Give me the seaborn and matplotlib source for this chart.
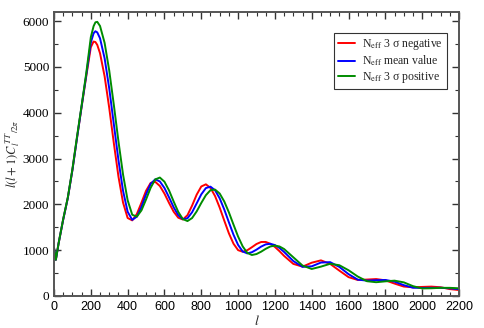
import numpy as np
import pandas as pd
import seaborn as sns
import matplotlib.pyplot as plt
from matplotlib.ticker import MultipleLocator

# multipole l grid
ell = [0, 10, 25, 50, 75, 100, 125, 150, 175, 200, 215, 225, 235, 250, 275, 300, 325, 350,
       375, 400, 425, 450, 475, 500, 525, 550, 575, 600, 625, 650, 675, 700, 725, 750, 775,
       800, 825, 850, 875, 900, 925, 950, 975, 1000, 1025, 1050, 1075, 1100, 1125, 1150,
       1175, 1200, 1225, 1250, 1300, 1350, 1400, 1450, 1500, 1550, 1600, 1650, 1700, 1750,
       1800, 1850, 1900, 1950, 2000, 2050, 2100, 2150, 2200]

# N_eff 3 sigma negative
neg = [1050, 790, 1150, 1670, 2140, 2750, 3450, 4130, 4790, 5430, 5555, 5544, 5482, 5300,
       4794, 4106, 3337, 2610, 2040, 1703, 1651, 1790, 2037, 2297, 2469, 2492, 2402, 2235,
       2031, 1840, 1709, 1670, 1764, 1972, 2212, 2391, 2438, 2360, 2181, 1930, 1645, 1368,
       1142, 1001, 966, 999, 1065, 1135, 1179, 1180, 1141, 1071, 978, 875, 701, 641, 727,
       778, 701, 554, 412, 350, 359, 370, 342, 271, 206, 190, 198, 205, 191, 151, 130]

# N_eff mean value
mean = [1050, 790, 1150, 1670, 2140, 2750, 3450, 4140, 4820, 5530, 5735, 5780, 5755, 5626,
        5188, 4532, 3752, 2970, 2299, 1839, 1662, 1732, 1945, 2219, 2449, 2547, 2501, 2358,
        2153, 1937, 1763, 1676, 1697, 1827, 2022, 2219, 2356, 2387, 2308, 2132, 1888, 1609,
        1338, 1115, 972, 930, 956, 1012, 1078, 1127, 1139, 1112, 1049, 961, 763, 637, 648,
        730, 739, 635, 477, 357, 336, 345, 350, 313, 237, 181, 176, 178, 180, 168, 150]

# N_eff 3 sigma positive
pos = [1050, 790, 1150, 1680, 2150, 2770, 3480, 4160, 4860, 5650, 5890, 5975, 5985, 5895,
       5525, 4923, 4173, 3380, 2653, 2091, 1773, 1733, 1869, 2107, 2363, 2545, 2586, 2495,
       2304, 2063, 1835, 1679, 1636, 1701, 1847, 2031, 2201, 2310, 2323, 2237, 2063, 1826,
       1559, 1298, 1083, 941, 895, 916, 967, 1030, 1081, 1100, 1081, 1025, 845, 665, 590,
       641, 703, 672, 562, 425, 323, 301, 320, 335, 298, 215, 165, 169, 178, 178, 168]

labels = [r'N$_{\rm eff}$ 3 σ negative', r'N$_{\rm eff}$ mean value', r'N$_{\rm eff}$ 3 σ positive']
colors = ['#ff0000', '#0000ff', '#008c00']

df = pd.DataFrame({
    'l': ell * 3,
    'Dl': neg + mean + pos,
    'model': [labels[0]] * len(ell) + [labels[1]] * len(ell) + [labels[2]] * len(ell),
})

sns.set_style('ticks')
plt.rcParams['font.family'] = ['Liberation Serif', 'DejaVu Serif']
plt.rcParams['mathtext.fontset'] = 'stix'

fig = plt.figure(figsize=(4.84, 3.28), dpi=100)
ax = fig.add_axes([54 / 484, 32 / 328, 405 / 484, 284 / 328])

sns.lineplot(data=df, x='l', y='Dl', hue='model', palette=colors, linewidth=1.4,
             ax=ax, legend=False)

ax.set_xlim(0, 2200)
ax.set_ylim(0, 6200)
ax.xaxis.set_major_locator(MultipleLocator(200))
ax.xaxis.set_minor_locator(MultipleLocator(50))
ax.yaxis.set_major_locator(MultipleLocator(1000))
ax.yaxis.set_minor_locator(MultipleLocator(500))
ax.tick_params(which='both', direction='in', top=True, right=True, colors='#333333',
               labelcolor='black')
ax.tick_params(which='major', length=5, width=1.0)
ax.tick_params(which='minor', length=3, width=0.8)
for lab in ax.get_xticklabels():
    lab.set_fontfamily(['Liberation Sans', 'DejaVu Sans'])
    lab.set_fontsize(9)
for lab in ax.get_yticklabels():
    lab.set_fontsize(9.5)
for sp in ax.spines.values():
    sp.set_color('#555555')
    sp.set_linewidth(1.4)

ax.set_xlabel(r'$l$', fontsize=10, labelpad=1)
ax.set_ylabel(r'$l(l+1)C_l^{\,TT}{}_{/2\pi}$', fontsize=9)
ax.yaxis.set_label_coords(-0.08, 0.5)

handles = [plt.Line2D([], [], color=c, lw=1.4) for c in colors]
leg = ax.legend(handles, labels, loc='upper right', bbox_to_anchor=(0.970, 0.926),
                borderaxespad=0, fontsize=8.5, frameon=True, fancybox=False,
                handlelength=1.4, handletextpad=0.6, borderpad=0.35, labelspacing=0.15)
leg.get_frame().set_edgecolor('black')
leg.get_frame().set_linewidth(0.8)

fig.savefig('out.png', dpi=100)
